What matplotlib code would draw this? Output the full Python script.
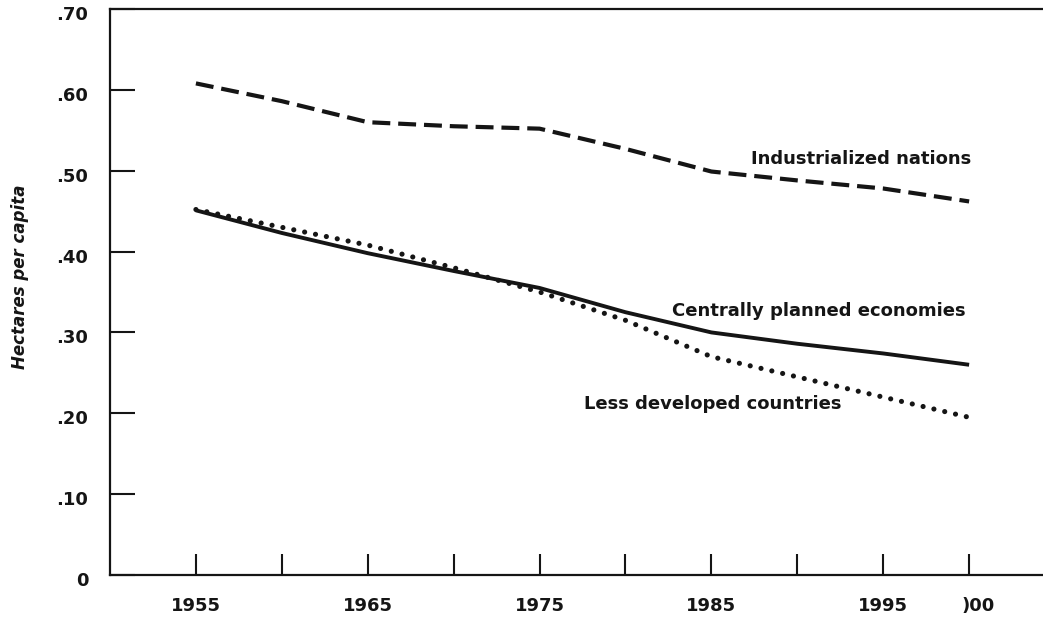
"""Cropland per capita, 1955-2000, for three groups of nations.

Output: out.png
"""
import matplotlib
matplotlib.use("Agg")
import matplotlib.pyplot as plt
from matplotlib.transforms import ScaledTranslation

years = [1955, 1960, 1965, 1970, 1975, 1980, 1985, 1990, 1995, 2000]
industrialized = [0.608, 0.586, 0.560, 0.555, 0.552, 0.527, 0.499, 0.488, 0.478, 0.462]
centrally_planned = [0.451, 0.423, 0.398, 0.376, 0.355, 0.325, 0.300, 0.286, 0.274, 0.260]
less_developed = [0.452, 0.430, 0.408, 0.380, 0.350, 0.315, 0.270, 0.245, 0.220, 0.195]

y_ticks = [0.0, 0.1, 0.2, 0.3, 0.4, 0.5, 0.6, 0.7]
y_tick_labels = ["0", ".10", ".20", ".30", ".40", ".50", ".60", ".70"]
x_ticks = [1955, 1960, 1965, 1970, 1975, 1980, 1985, 1990, 1995, 2000]
x_tick_labels = ["1955", "", "1965", "", "1975", "", "1985", "", "1995", ")00"]

series_labels = ["Industrialized nations", "Centrally planned economies",
                 "Less developed countries"]

_W, _H, _DPI = 1043, 617, 100
INK = "#151515"

fig = plt.figure(figsize=(_W / _DPI, _H / _DPI), dpi=_DPI)
ax = fig.add_axes([110 / _W, 1 - 575 / _H, 1 - 110 / _W, (575 - 9) / _H])

ax.plot(years, industrialized, color=INK, lw=3.0, linestyle=(0, (4.3, 1.9)),
        dash_capstyle="butt", solid_joinstyle="round")
ax.plot(years, centrally_planned, color=INK, lw=2.8, solid_capstyle="butt",
        solid_joinstyle="round")
# dotted: tiny dashes with round caps give round dots
ax.plot(years, less_developed, color=INK, lw=3.7, linestyle=(0, (0.01, 2.15)),
        dash_capstyle="round")

ax.set_xlim(1950, 2004.3)
ax.set_ylim(0, 0.70)

ax.set_xticks(x_ticks)
ax.set_xticklabels(x_tick_labels)
ax.set_yticks(y_ticks)
ax.set_yticklabels(y_tick_labels)

ax.tick_params(axis="x", direction="in", length=15, width=1.5, color=INK,
               pad=15.5, labelsize=13, labelcolor=INK)
ax.tick_params(axis="y", direction="in", length=18, width=1.5, color=INK,
               pad=15.5, labelsize=13, labelcolor=INK)
for lab in ax.get_xticklabels() + ax.get_yticklabels():
    lab.set_fontweight("bold")
for lab in ax.get_yticklabels():
    lab.set_transform(lab.get_transform() + ScaledTranslation(0, -4 / _DPI, fig.dpi_scale_trans))
last = ax.get_xticklabels()[-1]
last.set_transform(last.get_transform() + ScaledTranslation(9 / _DPI, 0, fig.dpi_scale_trans))

for side in ("left", "bottom", "top"):
    ax.spines[side].set_linewidth(1.6)
    ax.spines[side].set_color(INK)
ax.spines["right"].set_visible(False)

ax.set_ylabel("Hectares per capita", fontsize=12, fontstyle="italic",
              fontweight="bold", color=INK)
ax.yaxis.set_label_coords(-81 / (_W - 110), (575 - 277) / (575 - 9))

text_kw = dict(fontsize=13, fontweight="bold", color=INK, ha="left", va="center")
ax.text(1987.3, 0.514, series_labels[0], **text_kw)
ax.text(1982.7, 0.327, series_labels[1], **text_kw)
ax.text(1977.6, 0.212, series_labels[2], **text_kw)

fig.savefig("out.png", dpi=_DPI, facecolor="white")
plt.close(fig)
